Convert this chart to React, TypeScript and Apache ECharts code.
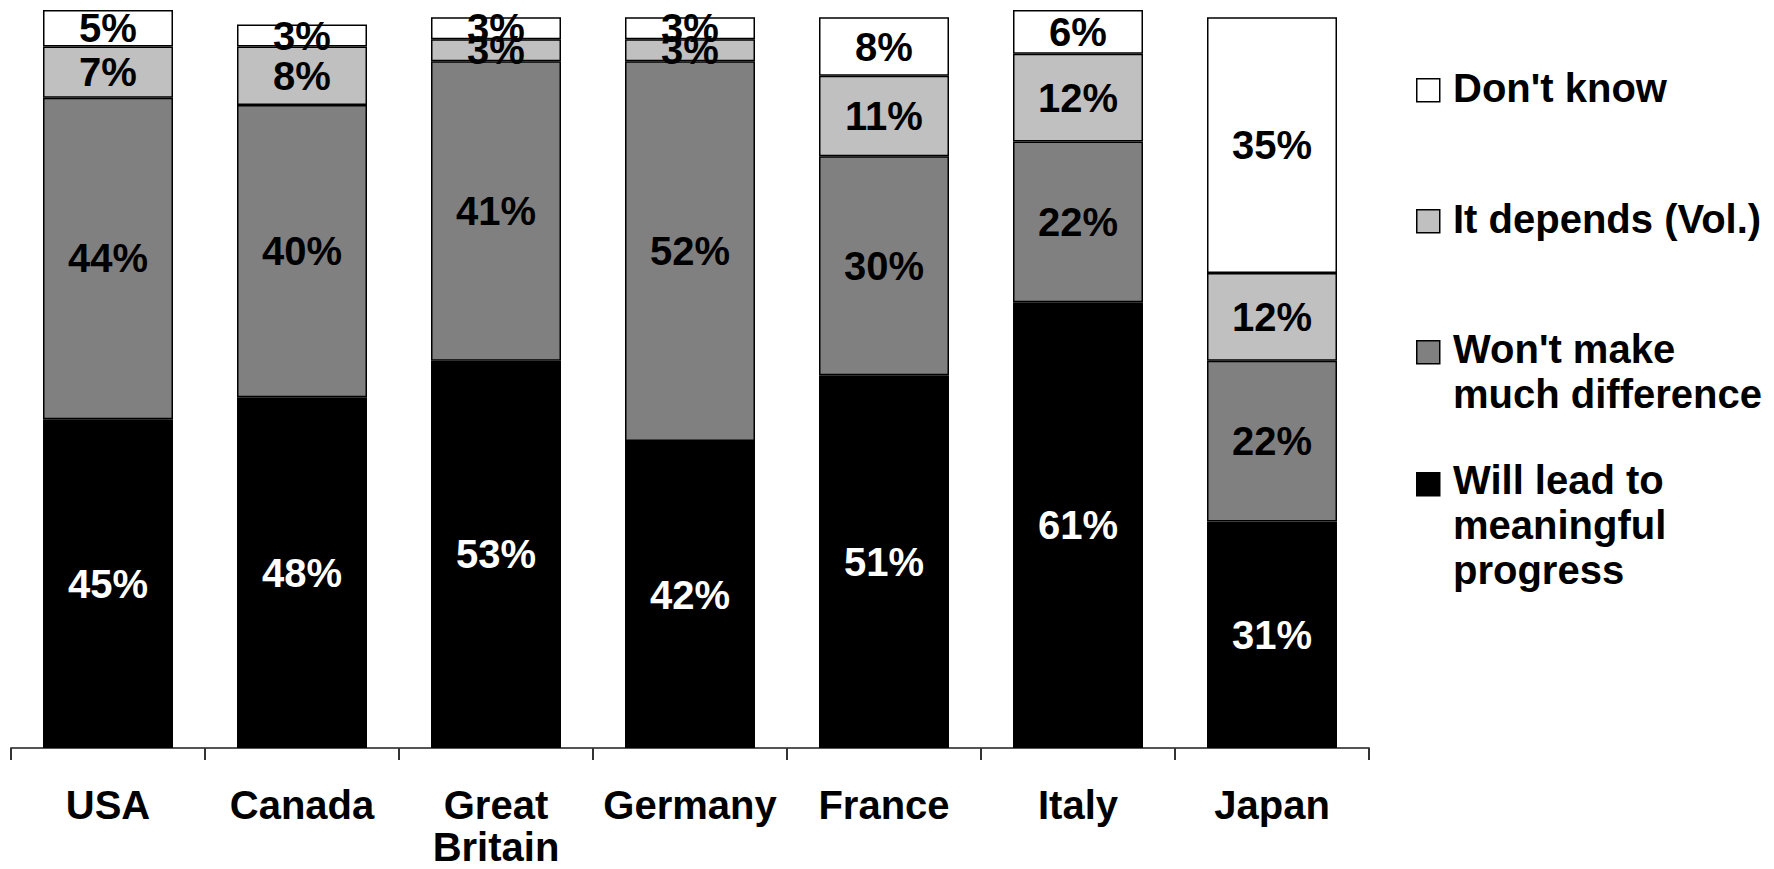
import React, { useEffect, useRef } from "react";
import * as echarts from "echarts";

const categories = ["USA", "Canada", "Great\nBritain", "Germany", "France", "Italy", "Japan"];
const seriesNames = [
  "Will lead to\nmeaningful\nprogress",
  "Won't make\nmuch difference",
  "It depends (Vol.)",
  "Don't know",
];
const willLead = [45, 48, 53, 42, 51, 61, 31];
const wontMake = [44, 40, 41, 52, 30, 22, 22];
const itDepends = [7, 8, 3, 3, 11, 12, 12];
const dontKnow = [5, 3, 3, 3, 8, 6, 35];
const seriesColors = ["#000000", "#808080", "#C0C0C0", "#FFFFFF"];
const labelColors = ["#FFFFFF", "#000000", "#000000", "#000000"];

const FONT = "'Liberation Sans', Arial, sans-serif";

export default function App() {
  const ref = useRef<HTMLDivElement>(null);
  useEffect(() => {
    if (!ref.current) return;
    document.documentElement.style.overflow = "hidden";
    document.body.style.overflow = "hidden";
    document.body.style.margin = "0";
    const chart = echarts.init(ref.current, undefined, { renderer: "svg" });
    const values = [willLead, wontMake, itDepends, dontKnow];
    const series = values.map((data, i) => ({
      name: seriesNames[i],
      type: "bar",
      stack: "total",
      barWidth: 130,
      data,
      itemStyle: { color: seriesColors[i], borderColor: "#000", borderWidth: 1.5 },
      label: {
        show: true,
        position: "inside",
        formatter: "{c}%",
        color: labelColors[i],
        fontSize: 40,
        fontWeight: "bold",
        fontFamily: FONT,
      },
    }));

    // Legend drawn as graphics (top-to-bottom order: Don't know ... Will lead)
    const legendOrder = [3, 2, 1, 0];
    const squareY = [78, 209, 340, 472];
    const baselineY = [102, 233, 363, 494];
    const LH = 45;
    const graphic: any[] = [];
    legendOrder.forEach((si, k) => {
      graphic.push({
        type: "rect",
        left: 1416,
        top: squareY[k],
        shape: { width: 23, height: 23 },
        style: { fill: seriesColors[si], stroke: "#000", lineWidth: 1.5 },
      });
      graphic.push({
        type: "text",
        left: 1453,
        top: baselineY[k] - LH / 2 - 14,
        style: {
          text: seriesNames[si],
          fontSize: 40,
          fontWeight: "bold",
          fontFamily: FONT,
          fill: "#000",
          lineHeight: LH,
          verticalAlign: "top",
        },
      });
    });

    chart.setOption({
      animation: false,
      backgroundColor: "#FFFFFF",
      textStyle: { fontFamily: FONT },
      grid: { left: 11, top: 10, width: 1358, height: 738, containLabel: false },
      xAxis: {
        type: "category",
        data: categories,
        boundaryGap: true,
        axisLine: { show: true, lineStyle: { color: "#555", width: 2 } },
        axisTick: { show: true, length: 12, alignWithLabel: false, lineStyle: { color: "#333", width: 2 } },
        axisLabel: {
          interval: 0,
          margin: 36,
          fontSize: 40,
          fontWeight: "bold",
          color: "#000",
          fontFamily: FONT,
          lineHeight: 42,
        },
      },
      yAxis: {
        type: "value",
        min: 0,
        max: 101,
        show: false,
        splitLine: { show: false },
      },
      series,
      graphic,
    });
    return () => chart.dispose();
  }, []);
  return (
    <div
      ref={ref}
      style={{
        position: "fixed",
        left: 0,
        top: 0,
        width: 1774,
        height: 869,
        overflow: "hidden",
        background: "#fff",
      }}
    />
  );
}
